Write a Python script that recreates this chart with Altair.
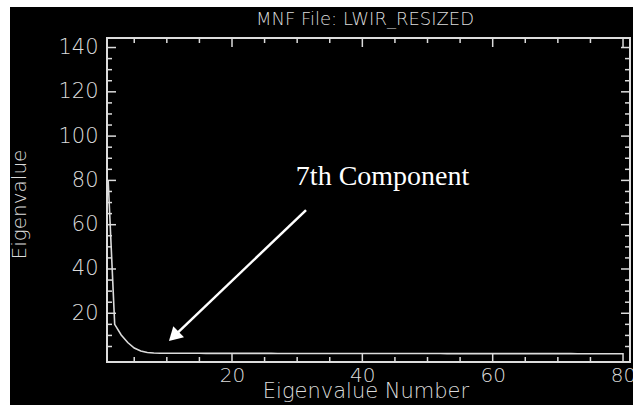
import altair as alt
import pandas as pd

# ---- data ----
eig_num = list(range(1, 81))
eig_val = [80.0, 15.0, 10.2, 6.8, 4.3, 3.0, 2.3, 2.05, 1.98, 1.95,
           1.94, 1.93, 1.93, 1.92, 1.92, 1.91, 1.91, 1.90, 1.90, 1.90,
           1.89, 1.89, 1.89, 1.88, 1.88, 1.88, 1.87, 1.87, 1.87, 1.86,
           1.86, 1.86, 1.85, 1.85, 1.85, 1.85, 1.84, 1.84, 1.84, 1.84,
           1.83, 1.83, 1.83, 1.83, 1.82, 1.82, 1.82, 1.82, 1.81, 1.81,
           1.81, 1.81, 1.80, 1.80, 1.80, 1.80, 1.79, 1.79, 1.79, 1.79,
           1.78, 1.78, 1.78, 1.78, 1.77, 1.77, 1.77, 1.77, 1.76, 1.76,
           1.76, 1.76, 1.75, 1.75, 1.75, 1.75, 1.74, 1.74, 1.74, 1.74]

x_major = [20, 40, 60, 80]
x_minor = [5, 10, 15, 25, 30, 35, 45, 50, 55, 65, 70, 75]
y_major = [20, 40, 60, 80, 100, 120, 140]
y_minor = [5, 10, 15, 25, 30, 35, 45, 50, 55, 65, 70, 75, 85, 90, 95,
           105, 110, 115, 125, 130, 135]

title_text = ["MNF File: LWIR_RESIZED"]
x_title = "Eigenvalue Number"
y_title = "Eigenvalue"
note_text = ["7th Component"]
note_x = [29.8]
note_y = [77.9]
arrow_x = [31.36]
arrow_y = [66.6]
arrow_x2 = [11.07]
arrow_y2 = [9.57]

df = pd.DataFrame({"n": eig_num, "v": eig_val})
note_df = pd.DataFrame({"n": note_x, "v": note_y, "t": note_text})
arrow_df = pd.DataFrame({"n": arrow_x, "v": arrow_y, "n2": arrow_x2, "v2": arrow_y2})
title_df = pd.DataFrame({"t": title_text})

FG = "#dcdcdc"
FONT = "DejaVu Sans"
FW = 200
W, H = 523, 324
MAJ, MIN = 9, 5

xs = alt.Scale(domain=[0.82, 81.07], nice=False, zero=False)
ys = alt.Scale(domain=[-2.0, 144.3], nice=False, zero=False)

x_axis = alt.Axis(values=x_major, ticks=False, tickSize=0, domain=False,
                  grid=False, labelPadding=3, labelColor=FG,
                  labelFont=FONT, labelFontSize=20, labelFontWeight=FW,
                  title=x_title, titleColor=FG, titleFont=FONT,
                  titleFontSize=21, titleFontWeight=FW,
                  titleBaseline="alphabetic", titleAnchor="middle",
                  titleX=258.5, titleY=35)
y_axis = alt.Axis(values=y_major, ticks=False, tickSize=0, domain=False,
                  grid=False, labelPadding=9, labelColor=FG,
                  labelFont=FONT, labelFontSize=21, labelFontWeight=FW,
                  title=y_title, titleColor=FG, titleFont=FONT,
                  titleFontSize=20, titleFontWeight=FW,
                  titleBaseline="middle", titleAnchor="middle",
                  titleAngle=270, titleX=-88, titleY=166)


def X(field="n"):
    return alt.X(f"{field}:Q", scale=xs, axis=x_axis)


def Y(field="v"):
    return alt.Y(f"{field}:Q", scale=ys, axis=y_axis)


main = alt.Chart(df).mark_line(color=FG, strokeWidth=1.6, clip=True).encode(
    x=X(), y=Y())


def yticks(values, x0, x1):
    d = pd.DataFrame({"v": values})
    return alt.Chart(d).mark_rule(color=FG, strokeWidth=1.5).encode(
        y=Y(), x=alt.value(x0), x2=alt.value(x1))


def xticks(values, y0, y1):
    d = pd.DataFrame({"n": values})
    return alt.Chart(d).mark_rule(color=FG, strokeWidth=1.5).encode(
        x=X(), y=alt.value(y0), y2=alt.value(y1))


tick_layers = [
    yticks(y_major, 0, MAJ), yticks(y_minor, 0, MIN),
    yticks(y_major, W, W - MAJ), yticks(y_minor, W, W - MIN),
    xticks(x_major, H, H - MAJ), xticks(x_minor, H, H - MIN),
    xticks(x_major, 0, MAJ), xticks(x_minor, 0, MIN),
]

arrow_line = alt.Chart(arrow_df).mark_rule(color="white", strokeWidth=2.5).encode(
    x=X(), y=Y(), x2="n2:Q", y2="v2:Q")
arrow_head = alt.Chart(arrow_df).mark_point(
    shape="triangle-up", filled=True, color="white", size=240, angle=226.3,
    opacity=1).encode(x=X("n2"), y=Y("v2"))
note = alt.Chart(note_df).mark_text(
    color="white", font="Liberation Serif", fontSize=28, align="left",
    baseline="alphabetic").encode(x=X(), y=Y(), text="t:N")
title = alt.Chart(title_df).mark_text(
    color=FG, font=FONT, fontSize=18, fontWeight=FW, align="center",
    baseline="alphabetic").encode(
    x=alt.value(258), y=alt.value(-13), text="t:N")

# white page margins on top and left of the black picture
margin = pd.DataFrame({"k": [0]})
left_strip = alt.Chart(margin).mark_rect(color="white", clip=False).encode(
    x=alt.value(-107), x2=alt.value(-97), y=alt.value(-38), y2=alt.value(367))
top_strip = alt.Chart(margin).mark_rect(color="white", clip=False).encode(
    x=alt.value(-107), x2=alt.value(526), y=alt.value(-38), y2=alt.value(-31))

chart = alt.layer(
    main, left_strip, top_strip, *tick_layers, arrow_line, arrow_head, note, title
).properties(
    width=W, height=H,
    autosize=alt.AutoSizeParams(type="none"),
    padding={"left": 107, "top": 38, "right": 3, "bottom": 43},
    background="black",
).configure_view(stroke=FG, strokeWidth=2)

chart.save("out.html", embed_options={"renderer": "svg", "actions": False})
